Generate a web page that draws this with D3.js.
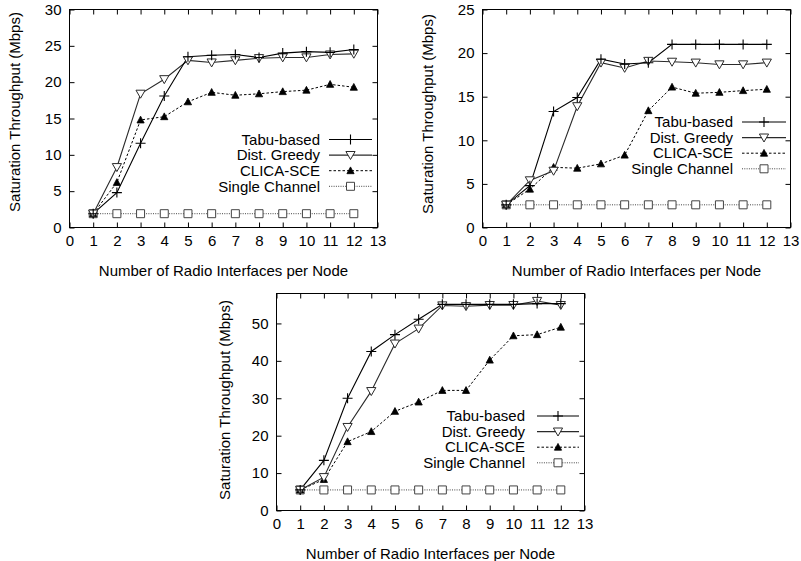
<!DOCTYPE html>
<html><head><meta charset="utf-8">
<script src="https://cdn.jsdelivr.net/npm/d3@7"></script>
<style>
body{margin:0;background:#fff;}
text{font-family:"Liberation Sans",Arial,sans-serif;font-size:15px;fill:#000;}
</style></head>
<body><svg id="c" width="801" height="561"></svg>
<script>
const xs = [1,2,3,4,5,6,7,8,9,10,11,12];
const xTicks = [0,1,2,3,4,5,6,7,8,9,10,11,12,13];
const seriesNames = ["Tabu-based","Dist. Greedy","CLICA-SCE","Single Channel"];

// Panel A (top left)
const tabuA   = [1.9,4.8,11.6,18.1,23.5,23.7,23.8,23.4,24.0,24.2,24.1,24.5];
const greedyA = [1.9,8.3,18.4,20.4,23.0,22.7,23.0,23.3,23.4,23.4,23.8,23.9];
const clicaA  = [1.9,6.2,14.8,15.25,17.3,18.6,18.2,18.4,18.7,18.9,19.7,19.3];
const singleA = [1.9,1.9,1.9,1.9,1.9,1.9,1.9,1.9,1.9,1.9,1.9,1.9];
const yTicksA = [0,5,10,15,20,25,30];

// Panel B (top right)
const tabuB   = [2.6,4.8,13.3,14.9,19.3,18.75,18.9,21.0,21.0,21.0,21.0,21.0];
const greedyB = [2.6,5.4,6.5,13.9,18.9,18.3,19.1,19.0,18.9,18.7,18.7,18.9];
const clicaB  = [2.6,4.4,6.9,6.8,7.3,8.3,13.4,16.1,15.4,15.5,15.7,15.85];
const singleB = [2.6,2.6,2.6,2.6,2.6,2.6,2.6,2.6,2.6,2.6,2.6,2.6];
const yTicksB = [0,5,10,15,20,25];

// Panel C (bottom)
const tabuC   = [5.5,13.4,30.0,42.5,47.0,51.1,55.1,55.1,55.1,55.1,55.3,55.3];
const greedyC = [5.5,8.9,22.3,31.9,44.6,48.6,54.8,54.6,54.9,54.9,56.0,54.9];
const clicaC  = [5.5,8.3,18.4,21.1,26.5,29.0,32.1,32.1,40.2,46.7,47.0,49.0];
const singleC = [5.5,5.5,5.5,5.5,5.5,5.5,5.5,5.5,5.5,5.5,5.5,5.5];
const yTicksC = [0,10,20,30,40,50];

const panels = [
  {left:69.5, right:377.5, top:9.5, bottom:227.5, ymax:30, yTicks:yTicksA,
   series:[tabuA,greedyA,clicaA,singleA], legX:320, legY:139.5, legL1:329, legL2:372, ylabX:15, ylabY:112},
  {left:482.5, right:790.5, top:9.5, bottom:227.5, ymax:25, yTicks:yTicksB,
   series:[tabuB,greedyB,clicaB,singleB], legX:733, legY:122, legL1:742, legL2:786, ylabX:428, ylabY:114},
  {left:276.5, right:584.5, top:293.5, bottom:510.5, ymax:58, yTicks:yTicksC,
   series:[tabuC,greedyC,clicaC,singleC], legX:525, legY:416, legL1:537, legL2:579, ylabX:225, ylabY:400}
];

const styles = [
  {stroke:"#000", width:1.1, dash:null, marker:"plus"},
  {stroke:"#2a2a2a", width:1.1, dash:null, marker:"tridown"},
  {stroke:"#000", width:1, dash:"2.5,2", marker:"triup"},
  {stroke:"#444", width:1, dash:"1,1.3", marker:"square"}
];

const markerPath = {
  plus:"M-5,0H5M0,-5V5",
  tridown:"M-4.6,-3.6L4.6,-3.6L0,4.4Z",
  triup:"M-3.6,3L3.6,3L0,-3.8Z",
  square:"M-4,-4H4V4H-4Z"
};
function drawMarker(g, type, st){
  const p = g.append("path").attr("d", markerPath[type]);
  if(type==="plus") p.attr("stroke", st.stroke).attr("stroke-width",1.1).attr("fill","none");
  else if(type==="triup") p.attr("fill","#000").attr("stroke","#000").attr("stroke-width",0.8);
  else p.attr("fill","#fff").attr("stroke", st.stroke).attr("stroke-width",1);
}

const svg = d3.select("#c");

panels.forEach(P=>{
  const x = d3.scaleLinear().domain([0,13]).range([P.left,P.right]);
  const y = d3.scaleLinear().domain([0,P.ymax]).range([P.bottom,P.top]);
  const g = svg.append("g");

  const ax = (sel)=>{ sel.select(".domain").remove(); sel.selectAll(".tick line").attr("stroke","#000"); sel.selectAll("text").attr("fill","#000").style("font-size","15px").style("font-family","'Liberation Sans',Arial,sans-serif"); };
  g.append("g").attr("transform",`translate(0,${P.bottom})`)
    .call(d3.axisBottom(x).tickValues(xTicks).tickFormat(d3.format("d")).tickSize(-5).tickPadding(8)).call(ax);
  g.append("g").attr("transform",`translate(0,${P.top})`)
    .call(d3.axisTop(x).tickValues(xTicks).tickFormat("").tickSize(-5)).call(ax);
  g.append("g").attr("transform",`translate(${P.left},0)`)
    .call(d3.axisLeft(y).tickValues(P.yTicks).tickFormat(d3.format("d")).tickSize(-5).tickPadding(8)).call(ax);
  g.append("g").attr("transform",`translate(${P.right},0)`)
    .call(d3.axisRight(y).tickValues(P.yTicks).tickFormat("").tickSize(-5)).call(ax);

  g.append("rect").attr("x",P.left).attr("y",P.top).attr("width",P.right-P.left).attr("height",P.bottom-P.top)
    .attr("fill","none").attr("stroke","#000").attr("stroke-width",1);

  // axis labels
  g.append("text").attr("x",(P.left+P.right)/2).attr("y",P.bottom+48).attr("text-anchor","middle")
    .text("Number of Radio Interfaces per Node");
  g.append("text").attr("transform",`translate(${P.ylabX},${P.ylabY}) rotate(-90)`).attr("text-anchor","middle")
    .attr("dy","0.35em").text("Saturation Throughput (Mbps)");

  // legend
  seriesNames.forEach((name,i)=>{
    const st = styles[i];
    const ly = P.legY + i*15.6;
    g.append("text").attr("x",P.legX).attr("y",ly).attr("dy","0.35em").attr("text-anchor","end").text(name);
    g.append("line").attr("x1",P.legL1).attr("x2",P.legL2).attr("y1",ly).attr("y2",ly)
      .attr("stroke",st.stroke).attr("stroke-width",st.width).attr("stroke-dasharray",st.dash);
    const mg = g.append("g").attr("transform",`translate(${(P.legL1+P.legL2)/2},${ly})`);
    drawMarker(mg, st.marker, st);
  });

  // series lines (draw in reverse so Tabu on top)
  const line = d3.line().x((d,i)=>x(xs[i])).y(d=>y(d));
  for(let i=3;i>=0;i--){
    const st = styles[i];
    g.append("path").datum(P.series[i]).attr("d",line).attr("fill","none")
      .attr("stroke",st.stroke).attr("stroke-width",st.width).attr("stroke-dasharray",st.dash);
  }
  for(let i=3;i>=0;i--){
    const st = styles[i];
    P.series[i].forEach((v,j)=>{
      const mg = g.append("g").attr("transform",`translate(${x(xs[j])},${y(v)})`);
      drawMarker(mg, st.marker, st);
    });
  }
});
</script></body></html>
